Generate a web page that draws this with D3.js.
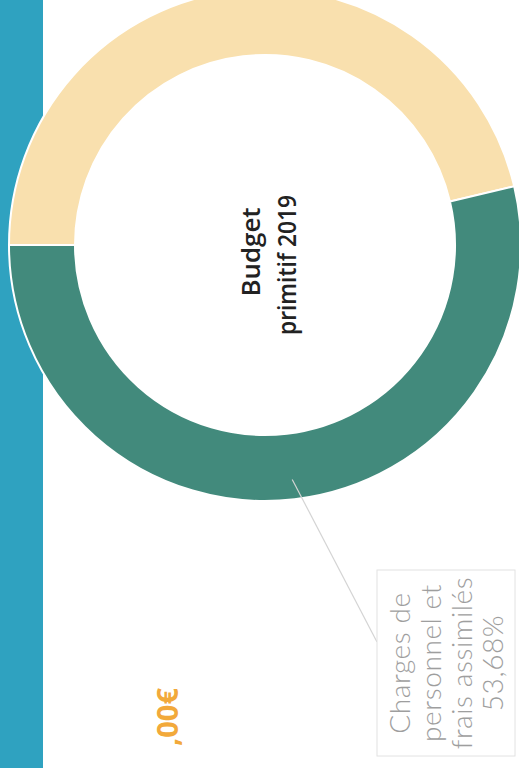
<!DOCTYPE html>
<html>
<head>
<meta charset="utf-8">
<script src="https://cdn.jsdelivr.net/npm/d3@7"></script>
<style>
  html, body { margin: 0; padding: 0; background: #fff; overflow: hidden; }
  #chart { width: 519px; height: 768px; }
</style>
</head>
<body>
<div id="chart"></div>
<script>
// slice data (page is scanned sideways, so everything is turned -90deg)
const categories = ["Autres charges", "Charges de personnel et frais assimilés"];
const values = [46.32, 53.68];
const colors = ["#f9e0ae", "#428a7c"];
const centerLines = ["Budget", "primitif 2019"];
const labelLines = ["Charges de", "personnel et", "frais assimilés"];
const amountText = ",00€";

function drawChart() {
  const width = 519, height = 768;
  const cx = 265, cy = 245;
  const outerR = 256, innerR = 190;

  const fr = d3.formatLocale({ decimal: ",", thousands: " ", grouping: [3], currency: ["", "€"] });
  const pct = fr.format(".2f");

  const svg = d3.select("#chart").append("svg")
    .attr("width", width)
    .attr("height", height);

  // blue band on the left edge of the page
  svg.append("rect")
    .attr("x", 0).attr("y", 0)
    .attr("width", 43).attr("height", height)
    .attr("fill", "#2fa2c0");

  const g = svg.append("g")
    .attr("transform", `translate(${cx},${cy})`);

  const pie = d3.pie()
    .sort(null)
    .value(d => d)
    .startAngle(-Math.PI / 2)
    .endAngle(3 * Math.PI / 2);

  const arcs = pie(values);

  const arc = d3.arc()
    .innerRadius(innerR)
    .outerRadius(outerR);

  g.selectAll("path")
    .data(arcs)
    .join("path")
      .attr("d", arc)
      .attr("fill", (d, i) => colors[i])
      .attr("stroke", "#fff")
      .attr("stroke-width", 2);

  // centre title, one text per line (condensed like the original)
  const titleLayout = [
    { x: -5, y: 7, len: 89 },
    { x: 31, y: 20, len: 140 }
  ];
  centerLines.forEach((t, i) => {
    g.append("text")
      .attr("transform", `translate(${titleLayout[i].x},${titleLayout[i].y}) rotate(-90)`)
      .attr("text-anchor", "middle")
      .attr("font-family", "'Open Sans', sans-serif")
      .attr("font-weight", 600)
      .attr("font-size", 25)
      .attr("fill", "#222")
      .attr("textLength", titleLayout[i].len)
      .attr("lengthAdjust", "spacingAndGlyphs")
      .text(t);
  });

  // leader line from teal slice to its label box
  const teal = arcs[1];
  const mid = (teal.startAngle + teal.endAngle) / 2;
  const r0 = 236;
  const p0 = [Math.sin(mid) * r0, -Math.cos(mid) * r0];
  const boxX = 377 - cx, boxY = 570 - cy, boxW = 138, boxH = 186;
  g.append("line")
    .attr("x1", p0[0]).attr("y1", p0[1])
    .attr("x2", boxX).attr("y2", boxY + 72)
    .attr("stroke", "#d4d4d4")
    .attr("stroke-width", 1.2);

  g.append("rect")
    .attr("x", boxX).attr("y", boxY)
    .attr("width", boxW).attr("height", boxH)
    .attr("fill", "#fff")
    .attr("stroke", "#e2e2e2")
    .attr("stroke-width", 1);

  const lbl = g.append("text")
    .attr("transform", `translate(${410 - cx},${663 - cy}) rotate(-90)`)
    .attr("text-anchor", "middle")
    .attr("font-family", "Lato, sans-serif")
    .attr("font-weight", 300)
    .attr("font-size", 28)
    .attr("letter-spacing", 0.6)
    .attr("fill", "#9e9e9e");
  labelLines.concat([pct(values[1]) + "%"]).forEach((t, i) => {
    lbl.append("tspan")
      .attr("x", 0)
      .attr("dy", i === 0 ? 0 : 31)
      .text(t);
  });

  // amount, cut off at the bottom of the scan
  svg.append("text")
    .attr("transform", "translate(178,688) rotate(-90)")
    .attr("text-anchor", "end")
    .attr("font-family", "'Open Sans', sans-serif")
    .attr("font-weight", 700)
    .attr("font-size", 29)
    .attr("fill", "#f2a93b")
    .text(amountText);
}

drawChart();
</script>
</body>
</html>
